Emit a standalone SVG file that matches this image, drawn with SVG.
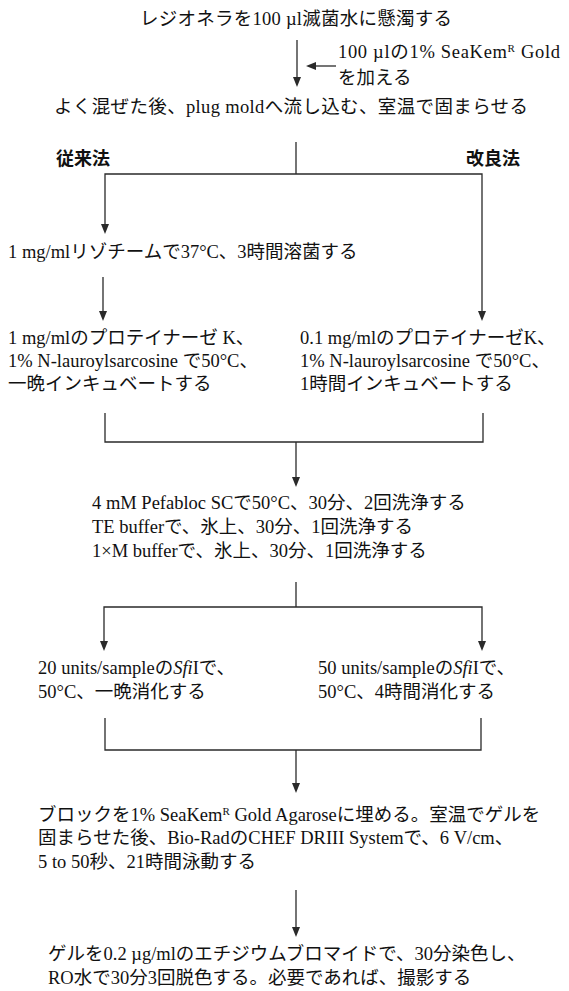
<svg xmlns="http://www.w3.org/2000/svg" width="569" height="991" viewBox="0 0 569 991">
<defs>
<style>
.t{font-family:"Liberation Serif","Noto Sans CJK JP",serif;font-size:18.5px;fill:#111}
.h{font-family:"Noto Sans CJK JP","Noto Sans",sans-serif;font-size:18px;font-weight:bold;fill:#111}
.ln{stroke:#2a2a2a;stroke-width:1.3;fill:none}
.hd{fill:#2a2a2a}
</style>
</defs>
<rect width="569" height="991" fill="#fff"/>
<g id="connectors">
<line class="ln" x1="297" y1="40" x2="297" y2="77"/>
<path class="hd" d="M297,87 l-4,-10 l8,0 z"/>
<line class="ln" x1="336" y1="66" x2="315" y2="66"/>
<path class="hd" d="M306,66 l10,-4 l0,8 z"/>
<line class="ln" x1="296" y1="142" x2="296" y2="174"/>
<polyline class="ln" points="105,225 105,174 482,174 482,312"/>
<path class="hd" d="M105,234 l-4,-10 l8,0 z M482,321 l-4,-10 l8,0 z"/>
<line class="ln" x1="103" y1="277" x2="103" y2="312"/>
<path class="hd" d="M103,321 l-4,-10 l8,0 z"/>
<polyline class="ln" points="105,413 105,442 483,442 483,413"/>
<line class="ln" x1="296" y1="442" x2="296" y2="478"/>
<path class="hd" d="M296,487 l-4,-10 l8,0 z"/>
<line class="ln" x1="296" y1="582" x2="296" y2="607"/>
<polyline class="ln" points="104,642 104,607 482,607 482,642"/>
<path class="hd" d="M104,651 l-4,-10 l8,0 z M482,651 l-4,-10 l8,0 z"/>
<polyline class="ln" points="105,718 105,750 481,750 481,718"/>
<line class="ln" x1="296" y1="750" x2="296" y2="784"/>
<path class="hd" d="M296,793 l-4,-10 l8,0 z"/>
<line class="ln" x1="296" y1="890" x2="296" y2="928"/>
<path class="hd" d="M296,937 l-4,-10 l8,0 z"/>
</g>
<g id="n1"><text class="t" x="140" y="25" textLength="312" lengthAdjust="spacing">レジオネラを100 µl滅菌水に懸濁する</text></g>
<g id="n2"><text class="t" x="338" y="58" textLength="222" lengthAdjust="spacing">100 µlの1% SeaKem<tspan font-size="11" dy="-6">R</tspan><tspan dy="6"> Gold</tspan></text>
<text class="t" x="338" y="84">を加える</text></g>
<g id="n3"><text class="t" x="54" y="113" textLength="474" lengthAdjust="spacing">よく混ぜた後、plug moldへ流し込む、室温で固まらせる</text></g>
<g id="l1"><text class="h" x="56" y="165">従来法</text></g>
<g id="l2"><text class="h" x="520" y="165" text-anchor="end">改良法</text></g>
<g id="n4"><text class="t" x="8" y="258">1 mg/mlリゾチームで37°C、3時間溶菌する</text></g>
<g id="n5"><text class="t" x="8" y="344">1 mg/mlのプロテイナーゼ K、</text>
<text class="t" x="8" y="367">1% N-lauroylsarcosine で50°C、</text>
<text class="t" x="8" y="390">一晩インキュベートする</text></g>
<g id="n6"><text class="t" x="300" y="344">0.1 mg/mlのプロテイナーゼK、</text>
<text class="t" x="300" y="367">1% N-lauroylsarcosine で50°C、</text>
<text class="t" x="300" y="390">1時間インキュベートする</text></g>
<g id="n7"><text class="t" x="92" y="509">4 mM Pefabloc SCで50°C、30分、2回洗浄する</text>
<text class="t" x="92" y="533">TE bufferで、氷上、30分、1回洗浄する</text>
<text class="t" x="92" y="557">1×M bufferで、氷上、30分、1回洗浄する</text></g>
<g id="n8"><text class="t" x="38" y="674">20 units/sampleの<tspan font-style="italic">Sfi</tspan>Iで、</text>
<text class="t" x="38" y="698">50°C、一晩消化する</text></g>
<g id="n9"><text class="t" x="318" y="674">50 units/sampleの<tspan font-style="italic">Sfi</tspan>Iで、</text>
<text class="t" x="318" y="698">50°C、4時間消化する</text></g>
<g id="n10"><text class="t" x="38" y="821">ブロックを1% SeaKem<tspan font-size="11" dy="-6">R</tspan><tspan dy="6"> Gold Agaroseに埋める。室温でゲルを</tspan></text>
<text class="t" x="38" y="844">固まらせた後、Bio-RadのCHEF DRIII Systemで、6 V/cm、</text>
<text class="t" x="38" y="868">5 to 50秒、21時間泳動する</text></g>
<g id="n11"><text class="t" x="48" y="960">ゲルを0.2 µg/mlのエチジウムブロマイドで、30分染色し、</text>
<text class="t" x="48" y="984">RO水で30分3回脱色する。必要であれば、撮影する</text></g>
</svg>
